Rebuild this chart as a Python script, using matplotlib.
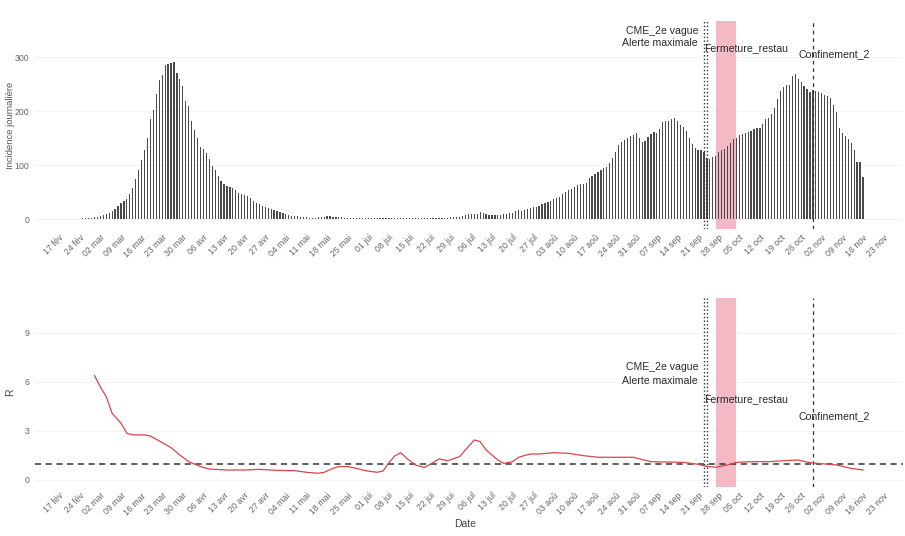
import matplotlib
matplotlib.use("Agg")
import matplotlib.pyplot as plt
import matplotlib.dates as mdates
import pandas as pd

plt.rcParams['font.family'] = ['Liberation Sans', 'DejaVu Sans']

# incidence journaliere, un point par jour a partir du 22 fevrier 2020
inc_start = "2020-02-22"
incidence = [
    0.5, 0.5, 0.5, 1, 1, 1.5, 2, 3, 4, 5,
    8, 10, 12, 14, 18.5, 24, 29, 33, 38, 46,
    57, 74, 91, 109, 127, 151, 185, 202, 231, 257,
    267, 286, 287, 289, 291, 270, 260, 246, 219, 209,
    181, 165, 151, 134, 130, 123, 111, 99, 90, 79,
    71, 65, 62, 59, 57, 54, 49, 46, 45, 42,
    39, 34, 30, 27, 24, 23, 20, 18.5, 17, 14,
    13, 11, 9, 7, 6, 5, 5, 4, 3, 3,
    2.5, 2.5, 2.5,
    3, 4, 4, 5, 5, 4, 4, 3,
    3, 2, 2, 2, 1, 1, 1, 2, 1,
    1, 1, 1, 1, 1, 1, 2, 2, 2, 1,
    2, 2, 2, 1, 1, 1, 2, 1, 1, 1,
    2, 2, 2, 2, 2, 2, 2, 2,
    3, 3, 3, 3, 6, 8, 9, 9, 10, 10,
    13, 11, 9, 8, 8, 8, 7, 8, 9, 10,
    12, 12, 14, 16, 15, 17, 18, 21, 22, 22,
    24, 27, 30, 32, 34, 37, 39,
    41, 47, 50, 53, 56, 59, 63, 64, 65, 67,
    76, 80, 83, 87, 91, 95, 96, 103, 113, 125,
    138, 143, 147, 150, 154, 156, 159, 150, 143, 145,
    152, 157, 161, 159, 167, 180, 182, 182, 185, 187,
    182, 174, 171, 163, 150, 139, 132, 128, 127, 124,
    114, 112, 115, 117, 124, 128, 130, 136, 141, 148,
    151, 155, 157, 159, 161, 163, 166, 169, 168, 176,
    185, 187, 195, 205, 222, 238, 245, 248, 248, 265,
    268, 260, 254, 247, 241, 236, 240, 238, 236, 233,
    229, 228, 225, 211, 198, 168, 160, 154, 148, 140,
    128, 106, 106, 78,
]

r_dates = [
    "2020-02-29", "2020-03-02", "2020-03-04", "2020-03-06", "2020-03-09",
    "2020-03-11", "2020-03-13", "2020-03-17", "2020-03-19", "2020-03-22",
    "2020-03-26", "2020-03-29", "2020-04-01", "2020-04-05", "2020-04-08",
    "2020-04-14", "2020-04-20", "2020-04-25", "2020-05-01", "2020-05-07",
    "2020-05-11", "2020-05-15", "2020-05-17", "2020-05-20", "2020-05-22",
    "2020-05-25", "2020-05-28", "2020-05-31", "2020-06-04", "2020-06-06",
    "2020-06-08", "2020-06-10", "2020-06-12", "2020-06-14", "2020-06-17",
    "2020-06-20", "2020-06-22", "2020-06-25", "2020-06-28", "2020-07-02",
    "2020-07-04", "2020-07-07", "2020-07-09", "2020-07-11", "2020-07-15",
    "2020-07-17", "2020-07-20", "2020-07-22", "2020-07-26", "2020-07-29",
    "2020-08-03", "2020-08-08", "2020-08-13", "2020-08-18", "2020-08-24",
    "2020-08-30", "2020-09-05", "2020-09-10", "2020-09-16", "2020-09-21",
    "2020-09-24", "2020-09-27", "2020-10-01", "2020-10-04", "2020-10-09",
    "2020-10-15", "2020-10-20", "2020-10-25", "2020-10-29", "2020-11-03",
    "2020-11-07", "2020-11-12", "2020-11-16",
]
r_values = [
    6.39, 5.7, 5.1, 4.08, 3.47,
    2.86, 2.76, 2.76, 2.69, 2.39,
    1.98, 1.53, 1.12, 0.82, 0.67,
    0.61, 0.61, 0.65, 0.59, 0.57,
    0.47, 0.41, 0.47, 0.71, 0.82,
    0.82, 0.71, 0.57, 0.47, 0.55,
    1.06, 1.47, 1.67, 1.33, 0.92,
    0.76, 0.96, 1.29, 1.18, 1.43,
    1.84, 2.45, 2.35, 1.84, 1.22,
    1.02, 1.12, 1.39, 1.59, 1.59,
    1.67, 1.63, 1.49, 1.39, 1.39,
    1.39, 1.12, 1.10, 1.08, 0.96,
    0.82, 0.78, 0.92, 1.08, 1.12,
    1.12, 1.18, 1.22, 1.06, 0.98,
    0.92, 0.71, 0.61,
]

tick_labels = [
    "17 fév", "24 fév", "02 mar", "09 mar", "16 mar", "23 mar", "30 mar",
    "06 avr", "13 avr", "20 avr", "27 avr", "04 mai", "11 mai", "18 mai",
    "25 mai", "01 jui", "08 jui", "15 jui", "22 jui", "29 jui", "06 jul",
    "13 jul", "20 jul", "27 jul", "03 aoû", "10 aoû", "17 aoû", "24 aoû",
    "31 aoû", "07 sep", "14 sep", "21 sep", "28 sep", "05 oct", "12 oct",
    "19 oct", "26 oct", "02 nov", "09 nov", "16 nov", "23 nov",
]

# evenements
cme_date = "2020-09-23"
alerte_date = "2020-09-24"
confinement_date = "2020-10-30"
restau_debut, restau_fin = "2020-09-27", "2020-10-04"

first_tick = pd.Timestamp("2020-02-17")
ticks = pd.date_range(first_tick, periods=len(tick_labels), freq="7D")
xlim = (mdates.date2num(first_tick - pd.Timedelta(days=8.2)),
        mdates.date2num(first_tick + pd.Timedelta(days=286.6)))

inc_dates = pd.date_range(inc_start, periods=len(incidence), freq="D")
r_x = pd.to_datetime(r_dates)

W, H = 905, 536
fig = plt.figure(figsize=(W / 100, H / 100), dpi=100)
ax1 = fig.add_axes([35 / W, 1 - 229 / H, 868 / W, 208 / H])
ax2 = fig.add_axes([35 / W, 1 - 487 / H, 868 / W, 189 / H])

txt_col = "#2b2b2b"
tick_col = "#666666"


def style(ax, yticks, ylim):
    ax.set_xlim(*xlim)
    ax.set_ylim(*ylim)
    ax.set_yticks(yticks)
    ax.set_xticks(ticks)
    ax.set_xticklabels(tick_labels, rotation=45, ha="right", va="top",
                       rotation_mode="anchor", fontsize=6.3, color=tick_col)
    ax.tick_params(axis="y", labelsize=6.3, labelcolor=tick_col, length=0, pad=4)
    ax.tick_params(axis="x", length=0, pad=3)
    for s in ax.spines.values():
        s.set_visible(False)
    for yv in yticks:
        ax.axhline(yv, color="#f3f3f3", lw=0.8, zorder=0)


def events(ax, y_cme, y_alerte, y_restau, y_conf):
    ax.axvspan(pd.Timestamp(restau_debut), pd.Timestamp(restau_fin),
               color="#f2b3bf", alpha=0.9, lw=0, zorder=1)
    ax.axvline(pd.Timestamp(cme_date), color="#333333", ls=":", lw=1.0, zorder=3)
    ax.axvline(pd.Timestamp(alerte_date), color="#333333", ls=":", lw=1.0, zorder=3)
    ax.axvline(pd.Timestamp(confinement_date), color="#333333", ls=(0, (3, 3)),
               lw=0.9, zorder=3)
    ax.text(pd.Timestamp("2020-09-21"), y_cme, "CME_2e vague", ha="right",
            va="center", fontsize=7.6, color=txt_col)
    ax.text(pd.Timestamp("2020-09-21"), y_alerte, "Alerte maximale", ha="right",
            va="center", fontsize=7.6, color=txt_col)
    ax.text(pd.Timestamp("2020-09-23"), y_restau, "Fermeture_restau", ha="left",
            va="center", fontsize=7.6, color=txt_col)
    ax.text(pd.Timestamp("2020-10-25"), y_conf, "Confinement_2", ha="left",
            va="center", fontsize=7.6, color=txt_col)


# panneau du haut : incidence
style(ax1, [0, 100, 200, 300], (-18.5, 367))
ax1.bar(inc_dates, incidence, width=0.42, color="#4a4a4a", lw=0, zorder=2)
events(ax1, 348, 326, 317, 306)
ax1.set_ylabel("Incidence journalière", fontsize=6.8, color="#555555")
ax1.yaxis.set_label_coords(-0.0225, 0.5)

# panneau du bas : R
style(ax2, [0, 3, 6, 9], (-0.43, 11.14))
ax2.axhline(1, color="#333333", ls=(0, (4, 3)), lw=1.1, zorder=2)
events(ax2, 6.92, 6.06, 4.96, 3.92)
ax2.plot(r_x, r_values, color="#d9444a", lw=0.9, zorder=4)
ax2.set_ylabel("R", fontsize=7.5, color="#444444")
ax2.yaxis.set_label_coords(-0.0225, 0.5)
ax2.set_xlabel("Date", fontsize=7.5, color="#444444")
ax2.xaxis.set_label_coords(0.495, -0.17)

fig.savefig("out.png", dpi=100)
